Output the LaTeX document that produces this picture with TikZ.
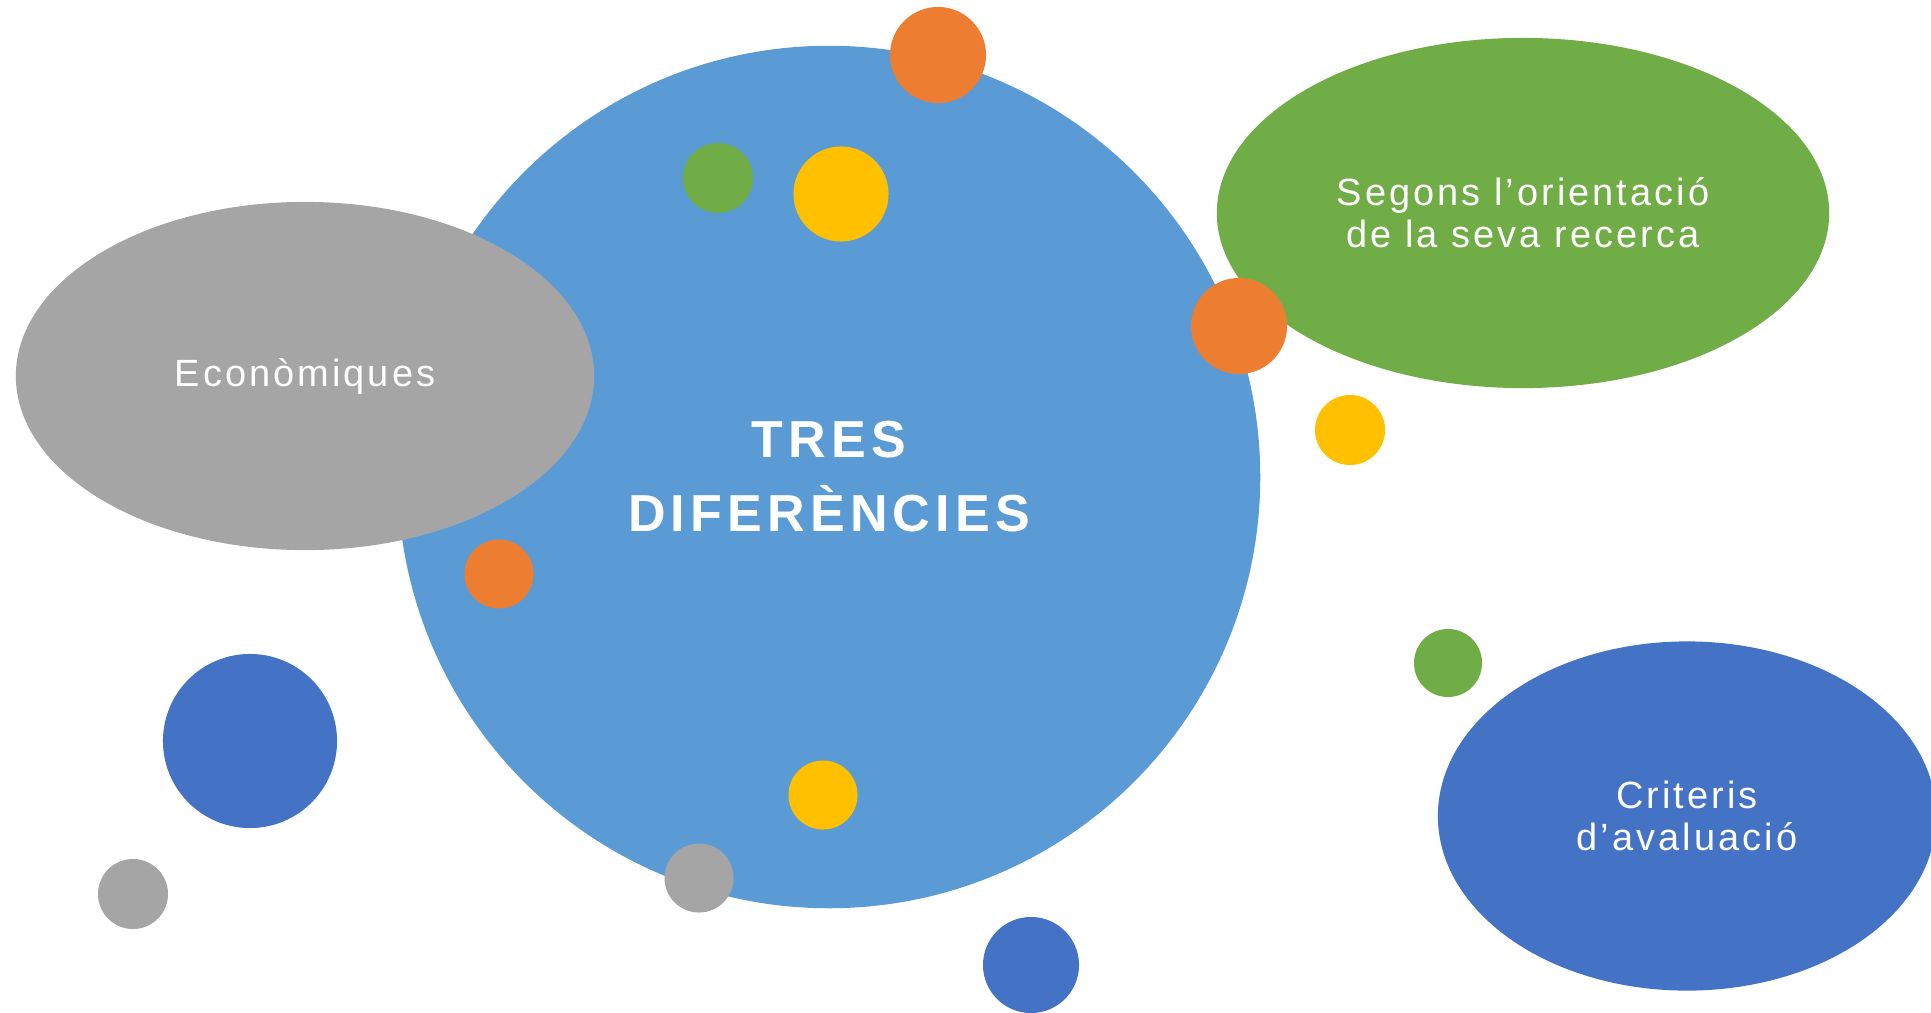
\documentclass[tikz,border=0pt]{standalone}
\usepackage{fontspec}
\setmainfont{Liberation Sans}
\newfontfamily\labelfont[LetterSpace=8]{Liberation Sans}
\newfontfamily\titlefont[LetterSpace=10]{Liberation Sans}
\usetikzlibrary{shapes.geometric}

\definecolor{midblue}{HTML}{5B9BD5}
\definecolor{greybub}{HTML}{A5A5A5}
\definecolor{greenbub}{HTML}{70AD47}
\definecolor{orangebub}{HTML}{ED7D31}
\definecolor{yellowbub}{HTML}{FFC000}
\definecolor{darkblue}{HTML}{4472C4}

\begin{document}
\begin{tikzpicture}[x=0.01cm, y=-0.01cm,
  bubble/.style={ellipse, inner sep=0pt, text=white, align=center,
    font=\labelfont\fontsize{10.8}{12}\selectfont},
  dot/.style={circle, inner sep=0pt}]
\useasboundingbox (0,0) rectangle (1931,1012);

% Central circle
\node[circle, fill=midblue, minimum size=8.62cm, inner sep=0pt, text=white, align=center,
  font=\titlefont\bfseries\fontsize{14.8}{21.05}\selectfont] (centre) at (829,477) {TRES\\DIFERÈNCIES};

% The three differences
\node[bubble, fill=greybub, minimum width=5.78cm, minimum height=3.48cm] (econ) at (305,376) {Econòmiques};
\node[bubble, fill=greenbub, minimum width=6.12cm, minimum height=3.50cm] (orient) at (1523,213) {Segons l’orientació\\de la seva recerca};
\node[bubble, fill=darkblue, minimum width=4.98cm, minimum height=3.49cm] (crit) at (1687,816) {Criteris\\d’avaluació};

% Small dots
\foreach \name/\x/\y/\col/\d in {o1/938/55/orangebub/0.96, g1/718/178/greenbub/0.70, y1/841/194/yellowbub/0.95,
    o2/1239/326/orangebub/0.96, y2/1350/430/yellowbub/0.70, o3/499/574/orangebub/0.69,
    g2/1448/663/greenbub/0.68, b1/250/741/darkblue/1.74, s1/133/894/greybub/0.70,
    y3/823/795/yellowbub/0.69, s2/699/878/greybub/0.69, b2/1031/965/darkblue/0.96} {
    \node[dot, fill=\col, minimum size=\d cm] (\name) at (\x,\y) {};
}

\end{tikzpicture}
\end{document}
